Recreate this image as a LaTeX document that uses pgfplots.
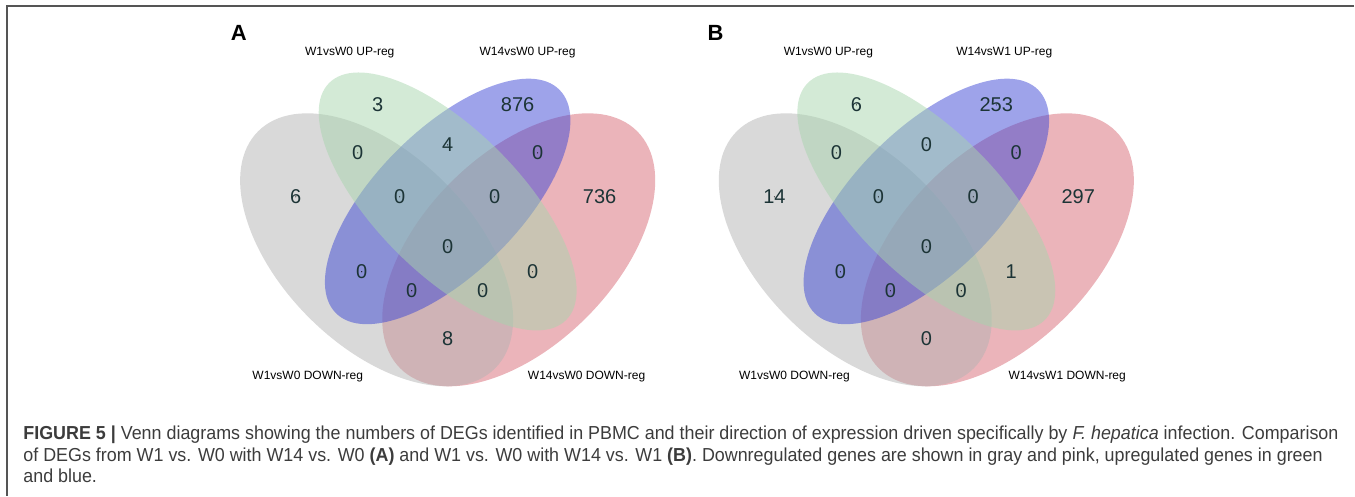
\documentclass[border=0pt]{standalone}
\usepackage{fontspec}
\setmainfont{Liberation Sans}
\usepackage{pgfplots}
\usepackage{pgfplotstable}
\usepackage{graphicx}
\pgfplotsset{compat=1.18}
\definecolor{cgray}{RGB}{179,179,179}
\definecolor{cgreen}{RGB}{167,213,173}
\definecolor{cblue}{RGB}{61,71,213}
\definecolor{cpink}{RGB}{215,105,117}
\definecolor{numc}{RGB}{28,52,54}
\definecolor{capc}{RGB}{60,60,60}
\definecolor{framec}{RGB}{85,85,85}

% region counts, panel A (pixel positions of the labels)
\pgfplotstableread{
x y label
378 391 3
518 391 876
358 343 0
448 351 4
538 343 0
296 299 6
400 299 0
495 299 0
600 299 736
448 249 0
362 224 0
412 205 0
483 205 0
533 224 0
448 157 8
}\countsA
% panel B
\pgfplotstableread{
x y label
857 391 6
997 391 253
837 343 0
927 351 0
1017 343 0
775 299 14
879 299 0
974 299 0
1079 299 297
927 249 0
841 224 0
891 205 0
962 205 0
1012 224 1
927 157 0
}\countsB

\newlength\capw
\newcommand\capone{\textbf{FIGURE 5 |} Venn diagrams showing the numbers of DEGs identified in PBMC and their direction of expression driven specifically by \textit{F. hepatica} infection. Comparison}
\newcommand\captwo{of DEGs from W1 vs. W0 with W14 vs. W0 \textbf{(A)} and W1 vs. W0 with W14 vs. W1 \textbf{(B)}. Downregulated genes are shown in gray and pink, upregulated genes in green}
\newcommand\capthree{and blue.}
\newcommand\capfont{\fontsize{9.4}{11}\selectfont}

\begin{document}%
\settowidth{\capw}{\capfont\capone}%
\pgfmathsetmacro\capfac{658/\capw}%
\begin{tikzpicture}
\begin{axis}[x=0.5pt, y=0.5pt, xmin=0, xmax=1355, ymin=0, ymax=496,
  hide axis, clip=false,
  every node near coord/.append style={anchor=center, text=numc, font=\fontsize{10}{12}\selectfont, inner sep=0pt}]
\path (axis cs:0,0) rectangle (axis cs:1355,496);
% frame
\draw[framec, line width=1pt] (axis cs:1355,490) -- (axis cs:7,490) -- (axis cs:7,0);

% ---- panel A ellipses
\fill[cpink, fill opacity=0.5, rotate around={45:(axis cs:519.1,246)}] (axis cs:519.1,246) ellipse [x radius=83.85pt, y radius=47.9pt];
\fill[cgray, fill opacity=0.5, rotate around={-45:(axis cs:376.9,246)}] (axis cs:376.9,246) ellipse [x radius=83.85pt, y radius=47.9pt];
\fill[cblue, fill opacity=0.5, rotate around={45:(axis cs:448,294.4)}] (axis cs:448,294.4) ellipse [x radius=79.05pt, y radius=35.95pt];
\fill[cgreen, fill opacity=0.5, rotate around={-45:(axis cs:448,294.4)}] (axis cs:448,294.4) ellipse [x radius=83.85pt, y radius=35.95pt];
% ---- panel B ellipses
\fill[cpink, fill opacity=0.5, rotate around={45:(axis cs:998.1,246)}] (axis cs:998.1,246) ellipse [x radius=83.85pt, y radius=47.9pt];
\fill[cgray, fill opacity=0.5, rotate around={-45:(axis cs:855.9,246)}] (axis cs:855.9,246) ellipse [x radius=83.85pt, y radius=47.9pt];
\fill[cblue, fill opacity=0.5, rotate around={45:(axis cs:927,294.4)}] (axis cs:927,294.4) ellipse [x radius=79.05pt, y radius=35.95pt];
\fill[cgreen, fill opacity=0.5, rotate around={-45:(axis cs:927,294.4)}] (axis cs:927,294.4) ellipse [x radius=83.85pt, y radius=35.95pt];

\addplot[only marks, mark=*, mark size=0.01pt, mark options={draw=none, fill=none},
  nodes near coords, point meta=explicit symbolic] table[x=x, y=y, meta=label] {\countsA};
\addplot[only marks, mark=*, mark size=0.01pt, mark options={draw=none, fill=none},
  nodes near coords, point meta=explicit symbolic] table[x=x, y=y, meta=label] {\countsB};

% panel letters and set labels
\node[font=\fontsize{11}{13}\selectfont\bfseries] at (axis cs:239,463) {A};
\node[font=\fontsize{11}{13}\selectfont\bfseries] at (axis cs:716,463) {B};
\begin{scope}[every node/.style={font=\fontsize{6}{7}\selectfont, inner sep=0pt}]
\node at (axis cs:350,443) {W1vsW0 UP-reg};
\node at (axis cs:528,443) {W14vsW0 UP-reg};
\node at (axis cs:308,119) {W1vsW0 DOWN-reg};
\node at (axis cs:587,119) {W14vsW0 DOWN-reg};
\node at (axis cs:829,443) {W1vsW0 UP-reg};
\node at (axis cs:1005,443) {W14vsW1 UP-reg};
\node at (axis cs:795,119) {W1vsW0 DOWN-reg};
\node at (axis cs:1068,119) {W14vsW1 DOWN-reg};
\end{scope}

% caption
\begin{scope}[every node/.style={anchor=base west, inner sep=0pt, text=capc, font=\capfont}]
\node at (axis cs:23,56) {\scalebox{\capfac}[1]{\capone}};
\node at (axis cs:23,34) {\scalebox{\capfac}[1]{\captwo}};
\node at (axis cs:23,13) {\scalebox{\capfac}[1]{\capthree}};
\end{scope}
\end{axis}
\end{tikzpicture}
\end{document}
